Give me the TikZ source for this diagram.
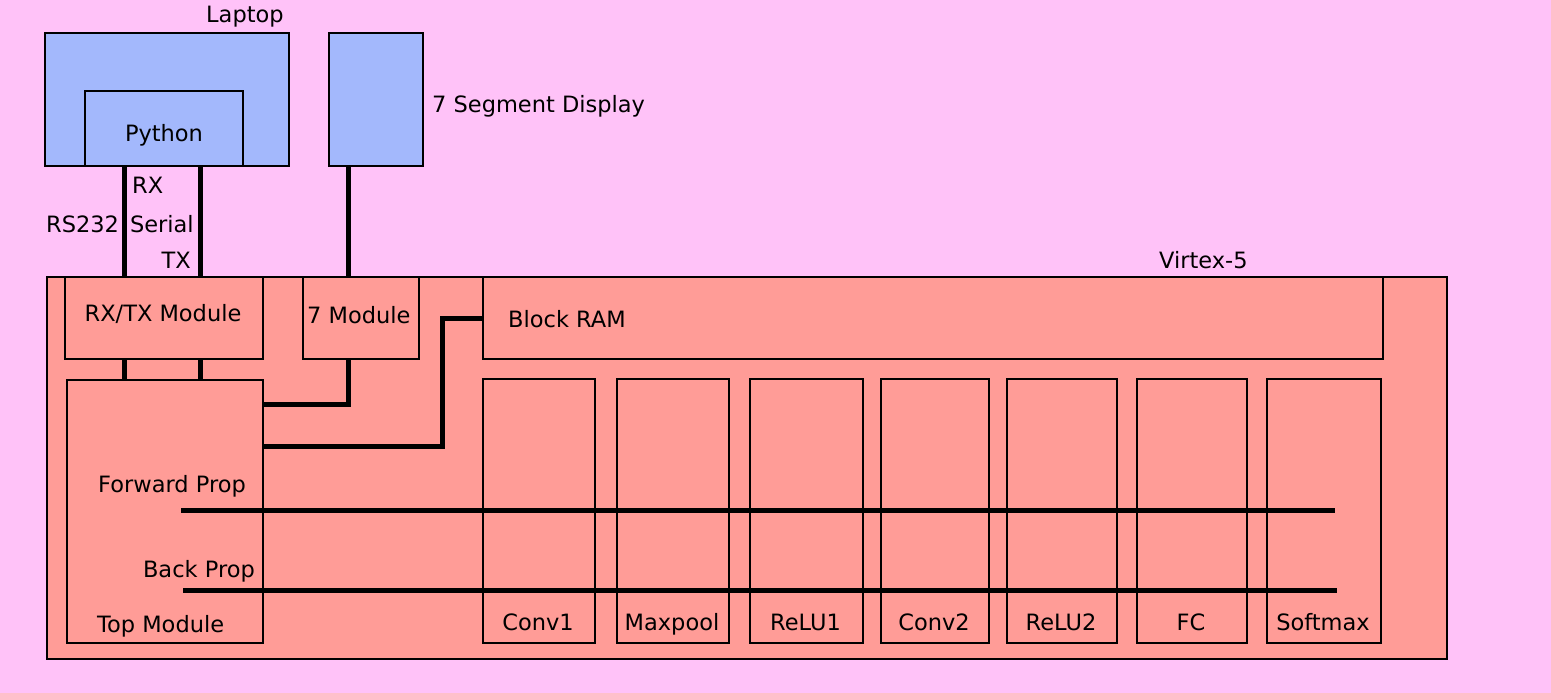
\documentclass[tikz,border=0pt]{standalone}
\usepackage{fontspec}
\setmainfont{DejaVu Sans}
\usetikzlibrary{positioning}
\definecolor{bgpink}{HTML}{FFC2F8}
\definecolor{hostblue}{HTML}{A3B8FC}
\definecolor{fpgared}{HTML}{FF9C97}

\tikzset{
  blk/.style={draw=black,line width=2pt,anchor=north west,inner sep=0pt},
  hostblk/.style={blk,fill=hostblue},
  fpgablk/.style={blk,fill=fpgared},
  wire/.style={line width=5pt},
  lbl/.style={inner sep=0pt,font=\fontsize{22.5}{27}\selectfont}
}

\begin{document}
\begin{tikzpicture}[x=1pt,y=-1pt]
    \fill[bgpink] (0,0) rectangle (1551,693);
    \useasboundingbox (0,0) rectangle (1551,693);
    % host side
    \node[hostblk,minimum width=244pt,minimum height=133pt] (laptop) at (44,32) {};
    \node[hostblk,minimum width=158pt,minimum height=75pt] (python) at (84,90) {};
    \node[hostblk,minimum width=94pt,minimum height=133pt] (seg) at (328,32) {};
    \node[lbl,anchor=base west] (laptoplbl) at (206,23) {Laptop};
    \node[lbl,anchor=base] (pythonlbl) at (164,141) {Python};
    \node[lbl,anchor=base west] (seglbl) at (432,113) {7 Segment Display};
    % fpga
    \node[fpgablk,minimum width=1400pt,minimum height=382pt] (virtex) at (46,276) {};
    \node[lbl,anchor=base west] (virtexlbl) at (1159,268) {Virtex-5};
    \node[fpgablk,minimum width=198pt,minimum height=82pt] (rxtx) at (64,276) {};
    \node[fpgablk,minimum width=116pt,minimum height=82pt] (sevmod) at (302,276) {};
    \node[fpgablk,minimum width=900pt,minimum height=82pt] (bram) at (482,276) {};
    \node[fpgablk,minimum width=196pt,minimum height=263pt] (top) at (66,379) {};
    \node[lbl,anchor=base] (rxtxlbl) at (163,321) {RX/TX Module};
    \node[lbl,anchor=base west] (sevmodlbl) at (307,323) {7 Module};
    \node[lbl,anchor=base west] (bramlbl) at (508,327) {Block RAM};
    \node[lbl,anchor=base west] (toplbl) at (97,632) {Top Module};
    \node[lbl,anchor=base west] (fwdlbl) at (98,492) {Forward Prop};
    \node[lbl,anchor=base east] (backlbl) at (255,577) {Back Prop};
    % network layers
    \foreach \name/\xl/\xr in {Conv1/482/594,Maxpool/616/728,ReLU1/749/862,Conv2/880/988,ReLU2/1006/1116,FC/1136/1246,Softmax/1266/1380}{
      \node[fpgablk,minimum width={\xr-\xl},minimum height=264pt] (\name) at (\xl,378) {};
      \node[lbl,anchor=base] (\name lbl) at ({(\xl+\xr)/2},630) {\name};
    }
    % serial link
    \coordinate (rx) at (124,0);
    \coordinate (tx) at (200,0);
    \coordinate (sevx) at (348,0);
    \draw[wire] (python.south -| rx) -- ([yshift=-2pt]rxtx.north -| rx);
    \draw[wire] (python.south -| tx) -- ([yshift=-2pt]rxtx.north -| tx);
    \draw[wire] (rxtx.south -| rx) -- (top.north -| rx);
    \draw[wire] (rxtx.south -| tx) -- (top.north -| tx);
    \node[lbl,anchor=base west] (rxlbl) at (132,193) {RX};
    \node[lbl,anchor=base west] (seriallbl) at (46,232) {RS232\hspace{11pt}Serial};
    \node[lbl,anchor=base east] (txlbl) at (191,268) {TX};
    % display and memory
    \draw[wire] (seg.south -| sevx) -- (sevmod.north -| sevx);
    \draw[wire] (sevmod.south -| sevx) |- ([yshift=-25pt]top.north east);
    \draw[wire] ([yshift=-42pt]bram.north west) -- ++(-40,0) |- ([yshift=-67pt]top.north east);
    % buses
    \coordinate (fwdstart) at (181,510);
    \coordinate (fwdend) at (1335,510);
    \coordinate (backstart) at (183,590);
    \coordinate (backend) at (1337,590);
    \draw[wire] (fwdstart) -- (fwdend);
    \draw[wire] (backstart) -- (backend);
\end{tikzpicture}
\end{document}
